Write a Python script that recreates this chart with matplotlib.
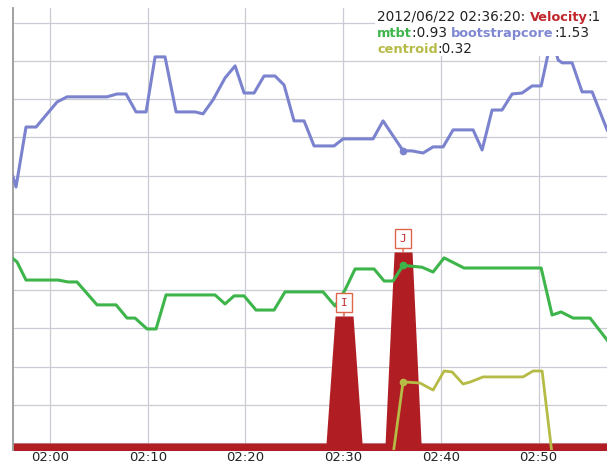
import matplotlib.pyplot as plt
from matplotlib.patches import Rectangle
from matplotlib.ticker import FuncFormatter, MultipleLocator

# time in minutes after 02:00, values in chart units
boot_t = [-3.79, -3.48, -2.46, -1.43, 0.72, 1.74, 5.83, 6.86, 7.78, 8.80,
          9.83, 10.75, 11.77, 12.90, 14.84, 15.66, 16.68, 17.91, 18.94,
          19.86, 20.88, 21.90, 23.03, 23.95, 24.97, 26.00, 27.02, 29.07,
          29.99, 33.06, 34.08, 36.13, 37.05, 38.18, 39.20, 40.23, 41.25,
          43.30, 44.22, 45.24, 46.26, 47.29, 48.31, 49.33, 50.26, 51.07,
          51.48, 52.00, 52.41, 53.43, 54.45, 55.48, 57.01]
boot_v = [1.393, 1.340, 1.654, 1.654, 1.785, 1.812, 1.812, 1.827, 1.827,
          1.733, 1.733, 2.021, 2.021, 1.733, 1.733, 1.723, 1.796, 1.911,
          1.974, 1.832, 1.832, 1.921, 1.921, 1.874, 1.686, 1.686, 1.555,
          1.555, 1.592, 1.592, 1.686, 1.530, 1.529, 1.518, 1.550, 1.550,
          1.639, 1.639, 1.534, 1.743, 1.743, 1.827, 1.832, 1.869, 1.869,
          2.060, 2.100, 2.005, 1.990, 1.990, 1.838, 1.838, 1.639]

mtbt_t = [-3.74, -3.38, -2.46, 0.82, 1.84, 2.76, 4.81, 6.76, 7.88, 8.70,
          9.93, 10.85, 11.87, 16.89, 17.91, 18.83, 19.86, 21.08, 22.93,
          24.05, 27.94, 29.17, 30.19, 31.22, 33.16, 34.19, 35.11, 36.13,
          38.08, 39.20, 40.33, 42.37, 50.26, 51.38, 52.30, 53.53, 55.27,
          57.01]
mtbt_v = [0.963, 0.948, 0.853, 0.853, 0.843, 0.843, 0.723, 0.723, 0.654,
          0.654, 0.597, 0.597, 0.775, 0.775, 0.728, 0.770, 0.770, 0.696,
          0.696, 0.791, 0.791, 0.717, 0.801, 0.911, 0.911, 0.848, 0.848,
          0.930, 0.920, 0.895, 0.969, 0.916, 0.916, 0.670, 0.686, 0.654,
          0.654, 0.539]

cent_t = [35.11, 36.13, 37.87, 39.20, 40.33, 41.15, 42.27, 42.99, 44.32,
          48.41, 49.44, 50.36, 51.38]
cent_v = [-0.06, 0.32, 0.314, 0.277, 0.377, 0.372, 0.309, 0.319, 0.346,
          0.346, 0.377, 0.377, -0.06]

vel_t = [-3.8, 28.25, 29.17, 30.09, 31.01, 31.93, 34.29, 35.21, 36.13,
         37.05, 37.97, 57.1]
vel_v = [0, 0, 0.665, 0.665, 0.665, 0, 0, 1.0, 1.0, 1.0, 0, 0]

# annotated velocity events
notes = [('I', 30.09, 0.665), ('J', 36.13, 1.0)]

# highlighted sample (02:36:20)
sel_t = 36.13
legend_rows = [
    [('2012/06/22 02:36:20: ', '#222222', 'normal'),
     ('Velocity', '#c0262b', 'bold'), (':1', '#222222', 'normal')],
    [('mtbt', '#3db54a', 'bold'), (':0.93 ', '#222222', 'normal'),
     ('bootstrapcore', '#8088d4', 'bold'), (':1.53', '#222222', 'normal')],
    [('centroid', '#b5bb45', 'bold'), (':0.32', '#222222', 'normal')],
]

c_vel = '#b01e23'
c_boot = '#7b83cf'
c_mtbt = '#3db54a'
c_cent = '#b5bb45'

W, H = 607, 465
fig = plt.figure(figsize=(W/100, H/100), dpi=100)
ax = fig.add_axes([13/W, 15/H, 594/W, 442/H])

ax.fill_between(vel_t, vel_v, -0.1, color=c_vel, lw=0, zorder=2)
ax.plot(boot_t, boot_v, color=c_boot, lw=2.2, zorder=3,
        solid_joinstyle='round')
ax.plot(mtbt_t, mtbt_v, color=c_mtbt, lw=2.2, zorder=3,
        solid_joinstyle='round')
ax.plot(cent_t, cent_v, color=c_cent, lw=2.0, zorder=3,
        solid_joinstyle='round')

# dots on the highlighted sample
for t, v, c in [(boot_t, boot_v, c_boot), (mtbt_t, mtbt_v, c_mtbt),
                (cent_t, cent_v, c_cent)]:
    i = t.index(sel_t)
    ax.plot(t[i], v[i], 'o', color=c, ms=4.5, zorder=4)

for label, t, v in notes:
    ax.annotate(label, xy=(t, v), xytext=(0, 9.5), textcoords='offset points',
                ha='center', va='center', fontsize=8, color='#c0262b',
                family='DejaVu Sans Mono', zorder=6,
                bbox=dict(boxstyle='square,pad=0.4', fc='white',
                          ec='#e0664a', lw=1),
                arrowprops=dict(arrowstyle='-', color='#e0664a', lw=1,
                                shrinkA=0, shrinkB=0))

ax.set_xlim(-3.79, 57.0)
ax.set_ylim(-0.0366, 2.277)
ax.xaxis.set_major_locator(MultipleLocator(10))
ax.yaxis.set_major_locator(MultipleLocator(0.2))
ax.xaxis.set_major_formatter(
    FuncFormatter(lambda m, pos: f'02:{int(round(m)):02d}'))
ax.tick_params(axis='x', length=0, pad=1, labelsize=9.5, labelcolor='#222222')
ax.tick_params(axis='y', length=0, labelleft=False)
ax.grid(True, color='#c9ccd4', lw=0.9, zorder=0)
ax.set_axisbelow(True)

for side in ('top', 'right', 'bottom'):
    ax.spines[side].set_visible(False)
ax.spines['left'].set_color('#9a9a9a')
ax.spines['left'].set_linewidth(1.3)

# legend box hides whatever lies behind it
ax.add_patch(Rectangle(((375-13)/594, (450-56)/442), 1, 1,
                       transform=ax.transAxes, fc='white', ec='none',
                       zorder=5, clip_on=True))

y0 = 1 - 21/H
for row in legend_rows:
    prev = None
    for txt, color, weight in row:
        size = 9.3 if weight == 'bold' else 9.8
        if prev is None:
            prev = fig.text(377/W, y0, txt, color=color, weight=weight,
                            fontsize=size, va='baseline')
        else:
            prev = ax.annotate(txt, xy=(1, 0), xycoords=prev, va='bottom',
                               ha='left', color=color, weight=weight,
                               fontsize=size, annotation_clip=False,
                               zorder=7)
    y0 -= 16/H

fig.savefig('out.png', dpi=100, facecolor='white')
